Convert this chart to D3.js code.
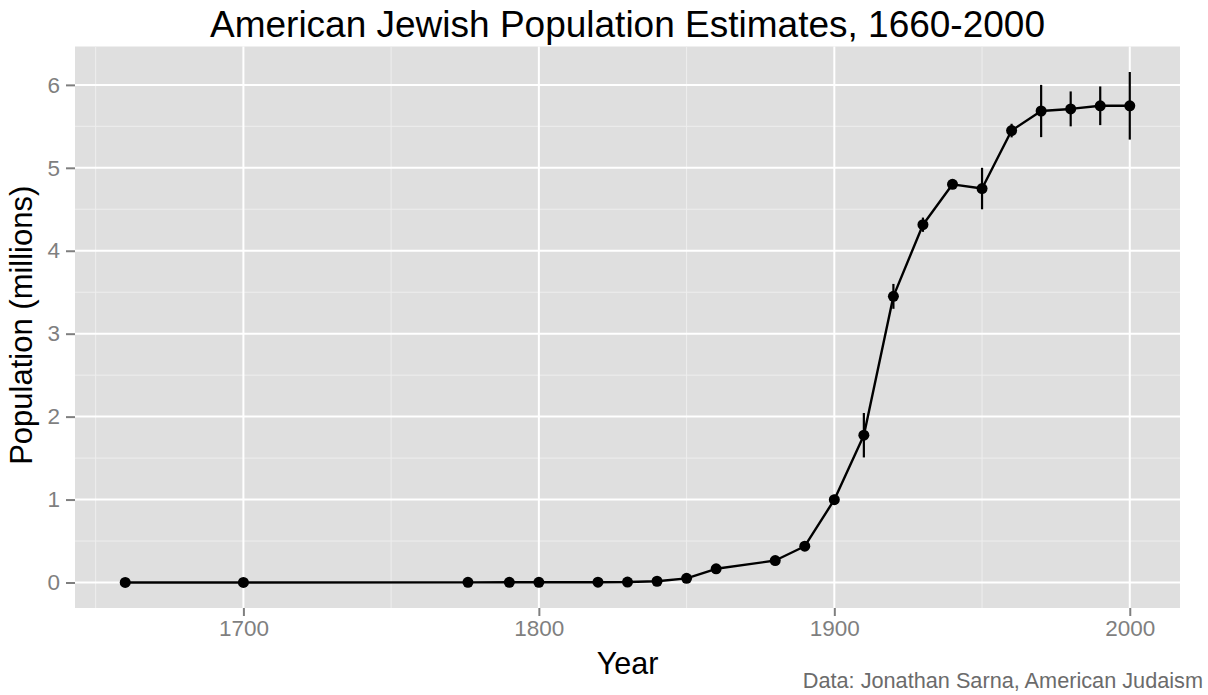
<!DOCTYPE html>
<html>
<head>
<meta charset="utf-8">
<script src="https://cdn.jsdelivr.net/npm/d3@7"></script>
<style>
  html, body { margin: 0; padding: 0; background: #ffffff; }
  svg { display: block; font-family: "Liberation Sans", Arial, Helvetica, sans-serif; }
</style>
</head>
<body>
<svg id="chart" width="1208" height="695"></svg>
<script>
// ---- data ----
const years = [1660, 1700, 1776, 1790, 1800, 1820, 1830, 1840, 1850, 1860, 1880, 1890, 1900, 1910, 1920, 1930, 1940, 1950, 1960, 1970, 1980, 1990, 2000];
const population = [0.0002, 0.00025, 0.0018, 0.0022, 0.0025, 0.0036, 0.0053, 0.015, 0.05, 0.165, 0.265, 0.4375, 0.998, 1.776, 3.45, 4.314, 4.801, 4.75, 5.449, 5.685, 5.71, 5.748, 5.7475];
const popLow  = [0.0002, 0.0002, 0.001, 0.0013, 0.0025, 0.0027, 0.0045, 0.015, 0.05, 0.15, 0.23, 0.4, 0.938, 1.508, 3.3, 4.228, 4.771, 4.5, 5.367, 5.37, 5.5, 5.515, 5.34];
const popHigh = [0.0002, 0.0003, 0.0025, 0.003, 0.0025, 0.005, 0.006, 0.015, 0.05, 0.18, 0.3, 0.475, 1.058, 2.044, 3.6, 4.4, 4.831, 5.0, 5.531, 6.0, 5.921, 5.981, 6.155];
const xTicks = [1700, 1800, 1900, 2000];
const xMinor = [1650, 1750, 1850, 1950];
const yTicks = [0, 1, 2, 3, 4, 5, 6];
const yMinor = [0.5, 1.5, 2.5, 3.5, 4.5, 5.5];
const titleText = "American Jewish Population Estimates, 1660-2000";
const xLabel = "Year";
const yLabel = "Population (millions)";
const caption = "Data: Jonathan Sarna, American Judaism";

const data = years.map((y, i) => ({ year: y, pop: population[i], lo: popLow[i], hi: popHigh[i] }));

// ---- layout ----
const panel = { left: 75, right: 1180, top: 46.5, bottom: 608 };
const svg = d3.select("#chart");

// ggplot-like 5% expansion
const xMin = d3.min(years), xMax = d3.max(years);
const xPad = (xMax - xMin) * 0.05;
const yMinV = d3.min(popLow), yMaxV = d3.max(popHigh);
const yPad = (yMaxV - yMinV) * 0.05;

const x = d3.scaleLinear().domain([xMin - xPad, xMax + xPad]).range([panel.left, panel.right]);
const y = d3.scaleLinear().domain([yMinV - yPad, yMaxV + yPad]).range([panel.bottom, panel.top]);

// panel background
svg.append("rect")
  .attr("x", panel.left).attr("y", panel.top)
  .attr("width", panel.right - panel.left).attr("height", panel.bottom - panel.top)
  .attr("fill", "#dfdfdf");

// minor grid
const g = svg.append("g");
g.selectAll(".xminor").data(xMinor).join("line")
  .attr("x1", d => x(d)).attr("x2", d => x(d))
  .attr("y1", panel.top).attr("y2", panel.bottom)
  .attr("stroke", "#eeeeee").attr("stroke-width", 1);
g.selectAll(".yminor").data(yMinor).join("line")
  .attr("y1", d => y(d)).attr("y2", d => y(d))
  .attr("x1", panel.left).attr("x2", panel.right)
  .attr("stroke", "#eeeeee").attr("stroke-width", 1);
// major grid
g.selectAll(".xmajor").data(xTicks).join("line")
  .attr("x1", d => x(d)).attr("x2", d => x(d))
  .attr("y1", panel.top).attr("y2", panel.bottom)
  .attr("stroke", "#ffffff").attr("stroke-width", 2);
g.selectAll(".ymajor").data(yTicks).join("line")
  .attr("y1", d => y(d)).attr("y2", d => y(d))
  .attr("x1", panel.left).attr("x2", panel.right)
  .attr("stroke", "#ffffff").attr("stroke-width", 2);

// axes
const xAxis = d3.axisBottom(x).tickValues(xTicks).tickSize(8).tickPadding(4).tickFormat(d3.format("d"));
const yAxis = d3.axisLeft(y).tickValues(yTicks).tickSize(9).tickPadding(6).tickFormat(d3.format("d"));

const gx = svg.append("g").attr("transform", `translate(0,${panel.bottom})`).call(xAxis);
const gy = svg.append("g").attr("transform", `translate(${panel.left},0)`).call(yAxis);
[gx, gy].forEach(a => {
  a.select(".domain").remove();
  a.selectAll(".tick line").attr("stroke", "#7f7f7f").attr("stroke-width", 2);
  a.selectAll(".tick text").attr("fill", "#7f7f7f").attr("font-size", 22.5)
    .attr("font-family", "Liberation Sans, Arial, sans-serif");
});

// error bars
svg.append("g").selectAll("line").data(data).join("line")
  .attr("x1", d => x(d.year)).attr("x2", d => x(d.year))
  .attr("y1", d => y(d.lo)).attr("y2", d => y(d.hi))
  .attr("stroke", "#000").attr("stroke-width", 2.2);

// line
svg.append("path").datum(data)
  .attr("fill", "none").attr("stroke", "#000").attr("stroke-width", 2.4)
  .attr("stroke-linejoin", "round")
  .attr("d", d3.line().x(d => x(d.year)).y(d => y(d.pop)));

// points
svg.append("g").selectAll("circle").data(data).join("circle")
  .attr("cx", d => x(d.year)).attr("cy", d => y(d.pop)).attr("r", 5.5)
  .attr("fill", "#000");

// title
svg.append("text").attr("x", (panel.left + panel.right) / 2).attr("y", 37)
  .attr("text-anchor", "middle").attr("font-size", 37).attr("fill", "#000").text(titleText);

// axis titles
svg.append("text").attr("x", (panel.left + panel.right) / 2).attr("y", 674)
  .attr("text-anchor", "middle").attr("font-size", 30.5).attr("fill", "#000").text(xLabel);
svg.append("text")
  .attr("transform", `translate(32,${(panel.top + panel.bottom) / 2 - 2}) rotate(-90)`)
  .attr("text-anchor", "middle").attr("font-size", 31).attr("fill", "#000").text(yLabel);

// caption
svg.append("text").attr("x", 1203).attr("y", 688)
  .attr("text-anchor", "end").attr("font-size", 21.7).attr("fill", "#6b6b6b").text(caption);
</script>
</body>
</html>
